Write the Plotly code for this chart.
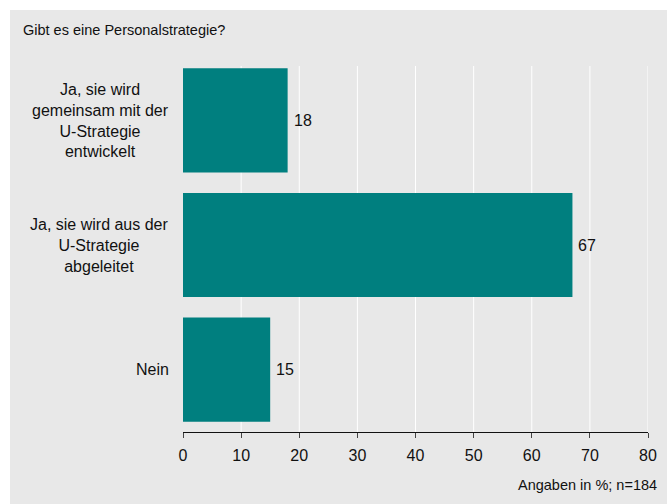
import plotly.graph_objects as go

categories = ["Ja, sie wird<br>gemeinsam mit der<br>U-Strategie<br>entwickelt",
              "Ja, sie wird aus der<br>U-Strategie<br>abgeleitet",
              "Nein"]
values = [18, 67, 15]
tick_vals = [0, 10, 20, 30, 40, 50, 60, 70, 80]
title_text = "Gibt es eine Personalstrategie?"
note_text = "Angaben in %; n=184"

FONT = "Liberation Sans, Arial, sans-serif"
GRAY = "#e8e8e8"
TEAL = "#007f7f"

W, H = 670, 504
L, R, T, B = 183, 22, 58, 72
pw, ph = W - L - R, H - T - B

def px_x(p):
    return (p - L) / pw

def px_y(p):
    return (H - B - p) / ph

fig = go.Figure()
fig.add_trace(go.Bar(
    x=values, y=list(range(len(categories))), orientation="h",
    marker=dict(color=TEAL, line=dict(width=0)),
    cliponaxis=False, width=0.835,
))

shapes = [dict(type="rect", xref="paper", yref="paper",
               x0=px_x(10), x1=px_x(667), y0=px_y(504), y1=px_y(10),
               fillcolor=GRAY, line=dict(width=0), layer="below")]
for v in tick_vals[1:]:
    shapes.append(dict(type="line", xref="x", yref="paper", x0=v, x1=v,
                       y0=0, y1=px_y(66), line=dict(color="white", width=1), layer="below"))

annotations = []
for i, c in enumerate(categories):
    annotations.append(dict(text=c, x=0, xref="paper", y=i, yref="y",
                            xanchor="right", yanchor="middle", align="center",
                            xshift=-12, showarrow=False,
                            font=dict(family=FONT, size=16, color="#111111")))
for i, v in enumerate(values):
    annotations.append(dict(text=str(v), x=v, xref="x", y=i, yref="y",
                            xanchor="left", yanchor="middle", xshift=4, showarrow=False,
                            font=dict(family=FONT, size=16, color="#111111")))
annotations.append(dict(text=title_text, x=px_x(21), xref="paper", y=px_y(30), yref="paper",
                        xanchor="left", yanchor="middle", showarrow=False,
                        font=dict(family=FONT, size=14.5, color="#111111")))
annotations.append(dict(text=note_text, x=px_x(659), xref="paper", y=px_y(485), yref="paper",
                        xanchor="right", yanchor="middle", showarrow=False,
                        font=dict(family=FONT, size=14.5, color="#111111")))

fig.update_layout(
    width=W, height=H, margin=dict(l=L, r=R, t=T, b=B),
    paper_bgcolor="white", plot_bgcolor="rgba(0,0,0,0)",
    showlegend=False, shapes=shapes, annotations=annotations,
    xaxis=dict(range=[0, 80], tickvals=tick_vals, showgrid=False, zeroline=False,
               showline=True, linecolor="#111111", linewidth=1,
               ticks="outside", ticklen=5, tickcolor="#444444", tickwidth=1,
               ticklabelstandoff=4,
               tickfont=dict(family=FONT, size=16, color="#111111")),
    yaxis=dict(range=[len(categories) - 0.5, -0.5], showticklabels=False,
               showgrid=False, zeroline=False, showline=False, ticks=""),
)

fig.write_html("out.html")
